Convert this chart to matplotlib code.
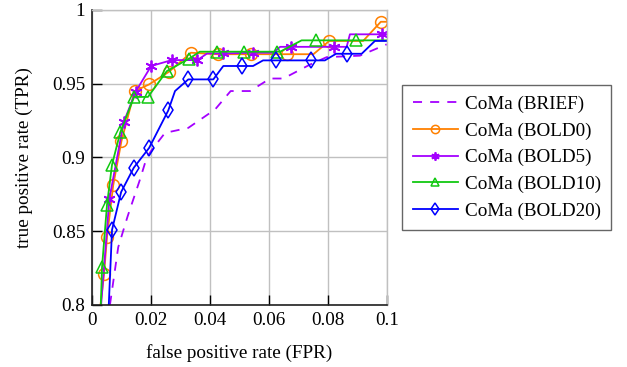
import matplotlib
matplotlib.use("Agg")
import matplotlib.pyplot as plt

plt.rcParams['font.family'] = ['Liberation Serif', 'DejaVu Serif']
plt.rcParams['mathtext.fontset'] = 'stix'

# ---- data ----
brief_x = [0.0060, 0.0088, 0.0120, 0.0162, 0.0185, 0.0202, 0.0247, 0.0326, 0.0417,
           0.0470, 0.0536, 0.0604, 0.0649, 0.0740, 0.0796, 0.0909, 0.1000]
brief_y = [0.800, 0.839, 0.860, 0.885, 0.900, 0.905, 0.9166, 0.920, 0.9325,
           0.945, 0.945, 0.9535, 0.9535, 0.963, 0.968, 0.969, 0.9767]

bold0_x = [0.0028, 0.0040, 0.0050, 0.0071, 0.0099, 0.0144, 0.0193, 0.0260, 0.0335,
           0.0426, 0.0540, 0.0662, 0.0751, 0.0805, 0.0920, 0.0980, 0.1000]
bold0_y = [0.800, 0.821, 0.846, 0.881, 0.911, 0.945, 0.9495, 0.958, 0.971,
           0.970, 0.970, 0.970, 0.970, 0.979, 0.979, 0.992, 0.992]
bold0_marks = [1, 2, 3, 4, 5, 6, 7, 8, 9, 10, 11, 13, 15]

bold5_x = [0.0030, 0.0058, 0.0107, 0.0147, 0.0200, 0.0270, 0.0357, 0.0390, 0.0445,
           0.0547, 0.0615, 0.0638, 0.0675, 0.0821, 0.0864, 0.0875, 0.0983, 0.1000]
bold5_y = [0.800, 0.872, 0.924, 0.9445, 0.962, 0.966, 0.966, 0.9705, 0.9705,
           0.971, 0.971, 0.975, 0.975, 0.975, 0.975, 0.9835, 0.9835, 0.9835]
bold5_marks = [1, 2, 3, 4, 5, 6, 8, 9, 12, 13, 16]

bold10_x = [0.0029, 0.0033, 0.0050, 0.0067, 0.0095, 0.0142, 0.0189, 0.0253, 0.0329,
            0.0365, 0.0422, 0.0515, 0.0626, 0.0638, 0.0711, 0.0760, 0.0896, 0.1000]
bold10_y = [0.800, 0.8254, 0.868, 0.895, 0.917, 0.941, 0.941, 0.9585, 0.967,
            0.9717, 0.9717, 0.9717, 0.9717, 0.9717, 0.9794, 0.9794, 0.9794, 0.9794]
bold10_marks = [1, 2, 3, 4, 5, 6, 7, 8, 10, 11, 12, 15, 16]

bold20_x = [0.0056, 0.0067, 0.0098, 0.0141, 0.0193, 0.0258, 0.0281, 0.0326, 0.0411,
            0.0445, 0.0507, 0.0546, 0.0580, 0.0624, 0.0742, 0.0790, 0.0828, 0.0866,
            0.0915, 0.0960, 0.1000]
bold20_y = [0.800, 0.8508, 0.8765, 0.893, 0.9064, 0.9318, 0.945, 0.9529, 0.9529,
            0.962, 0.962, 0.962, 0.9658, 0.9658, 0.9658, 0.9658, 0.9703, 0.9703,
            0.9703, 0.979, 0.979]
bold20_marks = [1, 2, 3, 4, 5, 7, 8, 10, 13, 14, 17]

labels = ['CoMa (BRIEF)', 'CoMa (BOLD0)', 'CoMa (BOLD5)', 'CoMa (BOLD10)', 'CoMa (BOLD20)']
x_ticks = [0, 0.02, 0.04, 0.06, 0.08, 0.1]
x_ticklabels = ['0', '0.02', '0.04', '0.06', '0.08', '0.1']
y_ticks = [0.8, 0.85, 0.9, 0.95, 1.0]
y_ticklabels = ['0.8', '0.85', '0.9', '0.95', '1']

c_orange = '#ff8000'
c_purple = '#a400ff'
c_green = '#11c811'
c_blue = '#0000ff'

fs = 13.8

fig = plt.figure(figsize=(6.27, 3.67), dpi=100)
ax = fig.add_axes([92.3 / 627, 1 - 304.7 / 367, (386.7 - 92.3) / 627, (304.7 - 10) / 367])

lw = 1.3
ax.plot(brief_x, brief_y, color=c_purple, lw=lw, dashes=(5, 4.5), label=labels[0])
ax.plot(bold0_x, bold0_y, color=c_orange, lw=lw, marker='o', markersize=8.5,
        markerfacecolor='none', markeredgewidth=1.1, markevery=bold0_marks, label=labels[1])
ax.plot(bold5_x, bold5_y, color=c_purple, lw=lw, marker=(6, 2, 0), markersize=8.5,
        markeredgewidth=1.3, markevery=bold5_marks, label=labels[2])
ax.plot(bold10_x, bold10_y, color=c_green, lw=lw, marker='^', markersize=8,
        markerfacecolor='none', markeredgewidth=1.1, markevery=bold10_marks, label=labels[3])
ax.plot(bold20_x, bold20_y, color=c_blue, lw=lw, marker='d', markersize=8.5,
        markerfacecolor='none', markeredgewidth=1.1, markevery=bold20_marks, label=labels[4])

ax.set_xlim(0, 0.1)
ax.set_ylim(0.8, 1.0)
ax.set_xticks(x_ticks)
ax.set_xticklabels(x_ticklabels)
ax.set_yticks(y_ticks)
ax.set_yticklabels(y_ticklabels)
ax.grid(True, color='#c0c0c0', lw=1.0)
ax.set_axisbelow(True)
ax.tick_params(direction='in', length=7, width=1.0, labelsize=fs, pad=5,
               top=False, right=False)
for s in ['left', 'bottom']:
    ax.spines[s].set_color('#202020')
    ax.spines[s].set_linewidth(1.2)
for s in ['top', 'right']:
    ax.spines[s].set_color('#c0c0c0')
    ax.spines[s].set_linewidth(1.0)

ax.set_xlabel('false positive rate (FPR)', fontsize=fs, labelpad=11)
ax.set_ylabel('true positive rate (TPR)', fontsize=fs, labelpad=14)

leg = ax.legend(loc='upper left', bbox_to_anchor=(402.3 / 627, 1 - 85 / 367),
                bbox_transform=fig.transFigure, fontsize=fs, frameon=True,
                fancybox=False, edgecolor='#404040', handlelength=2.35,
                labelspacing=0.48, borderpad=0.55, handletextpad=0.35,
                borderaxespad=0, markerscale=0.7)
leg.get_frame().set_linewidth(1.0)

fig.savefig('out.png', dpi=100)
